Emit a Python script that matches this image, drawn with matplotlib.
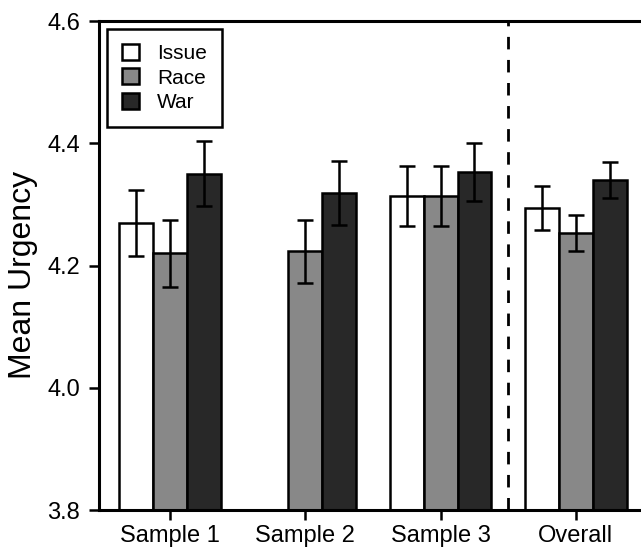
import numpy as np
import matplotlib.pyplot as plt
from matplotlib.patches import Patch

# data
groups = ["Sample 1", "Sample 2", "Sample 3", "Overall"]
conditions = ["Issue", "Race", "War"]
issue_mean = [4.270, np.nan, 4.314, 4.294]
issue_err = [0.054, np.nan, 0.049, 0.036]
race_mean = [4.220, 4.223, 4.314, 4.253]
race_err = [0.055, 0.052, 0.049, 0.030]
war_mean = [4.350, 4.319, 4.353, 4.340]
war_err = [0.053, 0.052, 0.047, 0.029]

colors = ["white", "#888888", "#282828"]
means = [issue_mean, race_mean, war_mean]
errs = [issue_err, race_err, war_err]

plt.rcParams['font.family'] = ['Liberation Sans', 'DejaVu Sans']

fig = plt.figure(figsize=(6.41, 5.49), dpi=100)
ax = fig.add_axes([0.1544, 0.071, 0.8456, 0.8907])

x = np.arange(len(groups))
width = 0.25
for i, (m, e, c) in enumerate(zip(means, errs, colors)):
    m = np.array(m, dtype=float)
    e = np.array(e, dtype=float)
    ok = ~np.isnan(m)
    pos = x[ok] + (i - 1) * width
    ax.bar(pos, m[ok] - 3.8, width, bottom=3.8, color=c, edgecolor="black",
           linewidth=1.8, zorder=2)
    ax.errorbar(pos, m[ok], yerr=e[ok], fmt="none", ecolor="black",
                elinewidth=1.8, capsize=6, capthick=1.8, zorder=3)

# separator between samples and overall
ax.axvline(2.5, color="black", linewidth=2.0, linestyle=(0, (4.5, 3.8)), zorder=1)

ax.set_xlim(-0.525, 3.481)
ax.set_ylim(3.8, 4.6)
ax.set_yticks([3.8, 4.0, 4.2, 4.4, 4.6])
ax.set_yticklabels(["3.8", "4.0", "4.2", "4.4", "4.6"])
ax.set_xticks(x)
ax.set_xticklabels(groups)
ax.tick_params(axis="both", labelsize=17, width=1.8, length=7.5, direction="out")
ax.tick_params(axis="y", pad=6)
ax.set_ylabel("Mean Urgency", fontsize=23)
ax.yaxis.set_label_coords(-0.112, 0.48)

ax.spines["right"].set_visible(False)
for s in ["left", "bottom", "top"]:
    ax.spines[s].set_linewidth(2.2)

handles = [Patch(facecolor=c, edgecolor="black", linewidth=1.8) for c in colors]
leg = ax.legend(handles, conditions, loc="upper left", fontsize=15,
                handlelength=0.8, handleheight=0.8, handletextpad=0.9,
                borderaxespad=0.4, labelspacing=0.25, fancybox=False,
                framealpha=1, borderpad=0.7)
leg.get_frame().set_edgecolor("black")
leg.get_frame().set_linewidth(1.8)

fig.savefig("out.png", dpi=100)
